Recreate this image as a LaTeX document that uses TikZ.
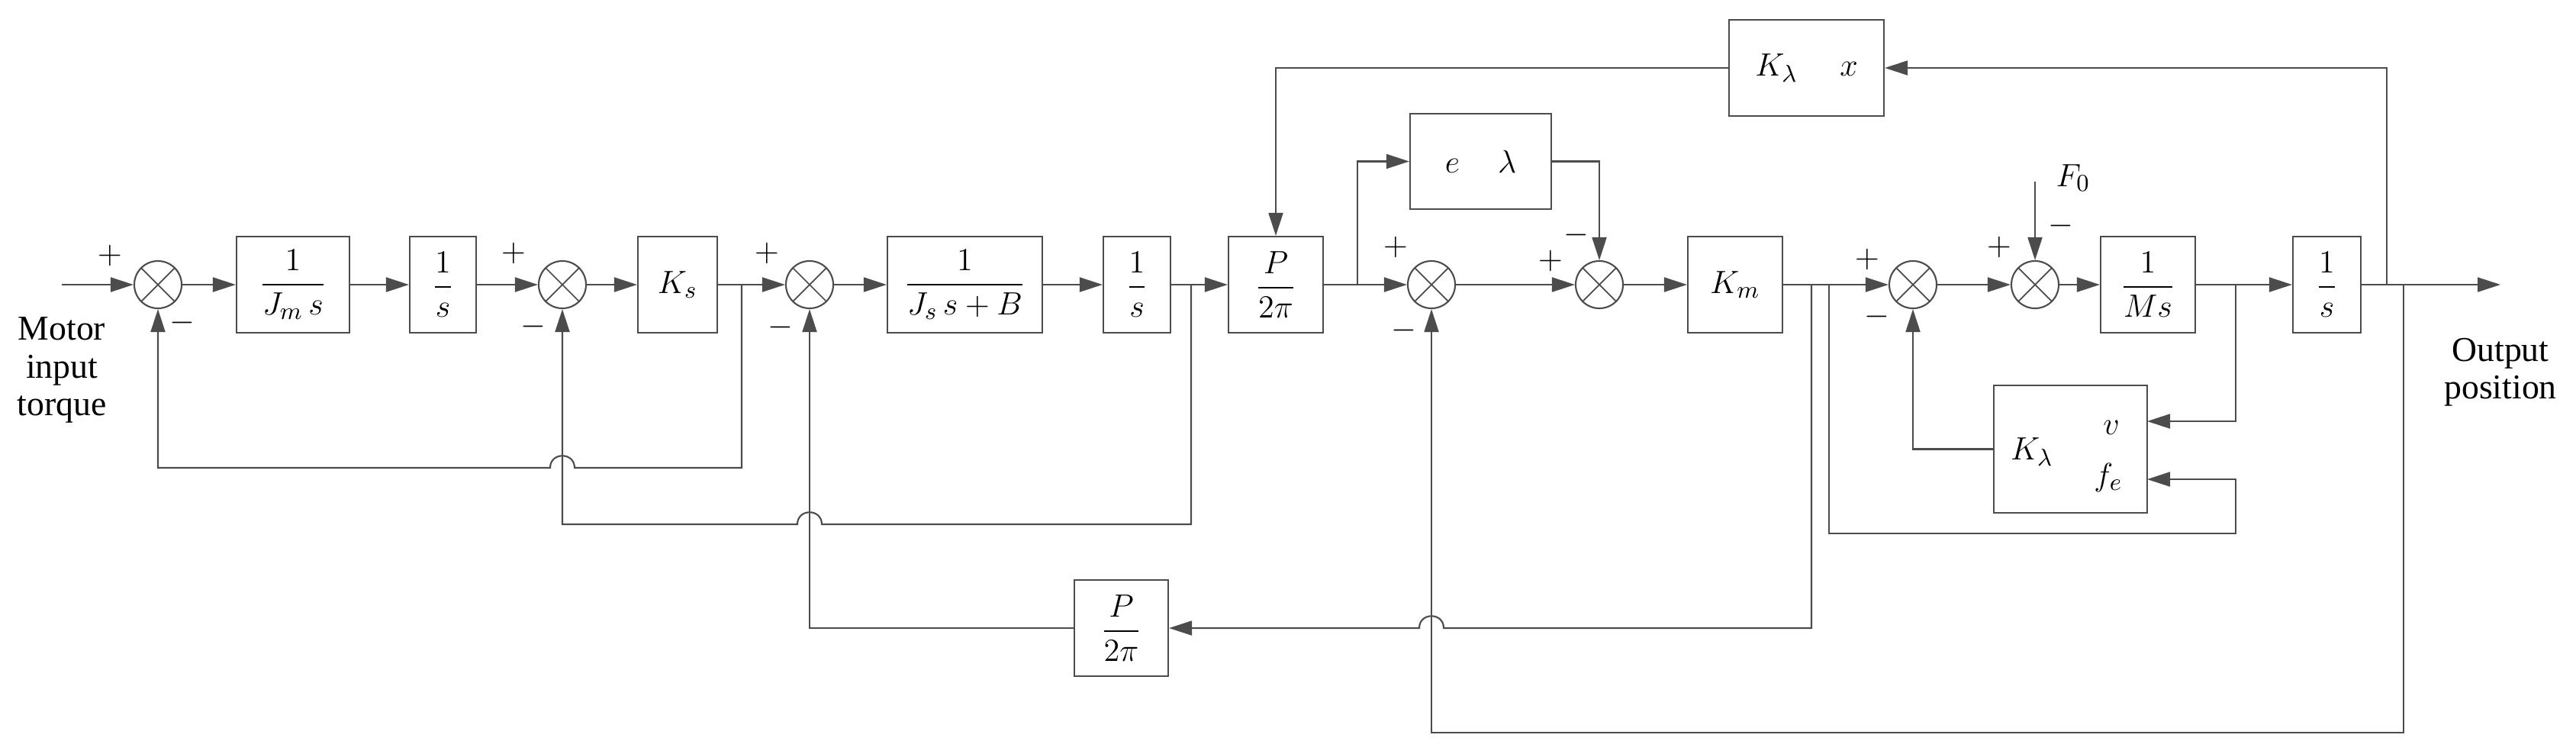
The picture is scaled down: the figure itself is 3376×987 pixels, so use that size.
\documentclass[tikz,border=0pt]{standalone}
\usepackage{amsmath}
\usepackage{fontspec}
\setmainfont{Liberation Serif}
\usetikzlibrary{arrows.meta}
\begin{document}
\begin{tikzpicture}[x=0.01cm,y=-0.01cm,
  font=\fontsize{13}{15}\selectfont,
  ln/.style={draw=black!70,line width=0.6pt},
  ar/.style={ln,-{Triangle[length=0.3cm,width=0.19cm]}},
  box/.style={draw=black!70,line width=0.6pt,minimum height=1.26cm,inner sep=0pt,align=center},
  sum/.style={circle,draw=black!70,line width=0.6pt,minimum size=0.62cm,inner sep=0pt,
    path picture={\draw[black!70,line width=0.5pt] (path picture bounding box.north west)--(path picture bounding box.south east)
      (path picture bounding box.north east)--(path picture bounding box.south west);}},
  sg/.style={inner sep=0pt}]
\useasboundingbox (0,0) rectangle (3376,987);
% boxes
\node[box,minimum width=1.48cm] (b1) at (384,373) {$\dfrac{1}{J_m\,s}$};
\node[box,minimum width=0.87cm] (b2) at (580.5,373) {$\dfrac{1}{s}$};
\node[box,minimum width=1.04cm] (bKs) at (888,373) {$K_s$};
\node[box,minimum width=2.03cm] (bJs) at (1264.5,373) {$\dfrac{1}{J_s\,s+B}$};
\node[box,minimum width=0.88cm] (bs2) at (1490,373) {$\dfrac{1}{s}$};
\node[box,minimum width=1.24cm] (bP) at (1672,373) {$\dfrac{P}{2\pi}$};
\node[box,minimum width=1.24cm] (bKm) at (2274,373) {$K_m$};
\node[box,minimum width=1.24cm] (bMs) at (2815,373) {$\dfrac{1}{Ms}$};
\node[box,minimum width=0.89cm] (bs3) at (3049.5,373) {$\dfrac{1}{s}$};
\node[box,minimum width=1.85cm,minimum height=1.25cm] (bEL) at (1940.5,211.5) {$e$\hspace{0.5cm}$\lambda$};
\node[box,minimum width=2.03cm] (bKx) at (2367.5,89) {$K_\lambda$\hspace{0.55cm}$x$};
\node[box,minimum width=2.01cm,minimum height=1.67cm] (bKv) at (2713.5,588.5) {};
\node[sg] (tK) at (2663,592) {$K_\lambda$};
\node[sg] (tv) at (2767,560) {$v$};
\node[sg] (tf) at (2763,626) {$f_e$};
\node[box,minimum width=1.23cm] (bP2) at (1469.5,823) {$\dfrac{P}{2\pi}$};
% sums
\node[sum] (s1) at (207,373) {};
\node[sum] (s2) at (737,373) {};
\node[sum] (s3) at (1061,373) {};
\node[sum] (s4) at (1876,373) {};
\node[sum] (s5) at (2096,373) {};
\node[sum] (s6) at (2507,373) {};
\node[sum] (s7) at (2667,373) {};
% texts
\node[align=center] (tin) at (81,485) {Motor\\[-1pt]input\\[-1pt]torque};
\node[align=center] (tout) at (3277,488) {Output\\[-1pt]position};
\node[sg] (tF) at (2717,233) {$F_0$};
\foreach \n/\x/\y in {p1/144/335,p2/673/332,p3/1005/332,p4/1829/324,p5/2032/342,p6/2447/340,p7/2620/324}
  \node[sg] (\n) at (\x,\y) {$+$};
\foreach \n/\x/\y in {m1/239/423,m2/699/428,m3/1023/429,m4/1840/433,m5/2066/308,m6/2460/415,m7/2701/296}
  \node[sg] (\n) at (\x,\y) {$-$};
% coordinates
\coordinate (cin) at (81,373);
\coordinate (j1) at (972,373);
\coordinate (j2) at (1561,373);
\coordinate (j3) at (1779,373);
\coordinate (j4) at (2374,373);
\coordinate (j5) at (2397,373);
\coordinate (j6) at (2930,373);
\coordinate (j7) at (3128,373);
\coordinate (j8) at (3150,373);
\coordinate (cout) at (3277,373);
\coordinate (cF) at (2667,238);
\coordinate (kv) at (2814,552);
\coordinate (kf) at (2814,628);
% forward path
\draw[ar] (cin) -- (s1.west);
\draw[ar] (s1.east) -- (b1.west);
\draw[ar] (b1.east) -- (b2.west);
\draw[ar] (b2.east) -- (s2.west);
\draw[ar] (s2.east) -- (bKs.west);
\draw[ar] (bKs.east) -- (j1) -- (s3.west);
\draw[ar] (s3.east) -- (bJs.west);
\draw[ar] (bJs.east) -- (bs2.west);
\draw[ar] (bs2.east) -- (j2) -- (bP.west);
\draw[ar] (bP.east) -- (j3) -- (s4.west);
\draw[ar] (j3) |- (bEL.west);
\draw[ar] (bEL.east) -| (s5.north);
\draw[ar] (s4.east) -- (s5.west);
\draw[ar] (s5.east) -- (bKm.west);
\draw[ar] (bKm.east) -- (j4) -- (j5) -- (s6.west);
\draw[ar] (s6.east) -- (s7.west);
\draw[ar] (s7.east) -- (bMs.west);
\draw[ar] (bMs.east) -- (j6) -- (bs3.west);
\draw[ar] (bs3.east) -- (j7) -- (j8) -- (cout);
\draw[ar] (cF) -- (s7.north);
% feedbacks
\draw[ar] (j1) -- (972,613) -- (753,613) .. controls (753,592) and (721,592) .. (721,613) -- (207,613) -- (s1.south);
\draw[ar] (j2) -- (1561,687) -- (1077,687) .. controls (1077,666) and (1045,666) .. (1045,687) -- (737,687) -- (s2.south);
\draw[ar] (j4) -- (2374,823) -- (1892,823) .. controls (1892,802) and (1860,802) .. (1860,823) -- (bP2.east);
\draw[ar] (bP2.west) -- (1061,823) -- (s3.south);
\draw[ar] (j5) -- (2397,699) -- (2930,699) -- (2930,628) -- (kf);
\draw[ar] (j6) -- (2930,552) -- (kv);
\draw[ar] (bKv.west) -| (s6.south);
\draw[ar] (j7) |- (bKx.east);
\draw[ar] (bKx.west) -| (bP.north);
\draw[ar] (j8) -- (3150,960) -- (1876,960) -- (s4.south);
\end{tikzpicture}
\end{document}
